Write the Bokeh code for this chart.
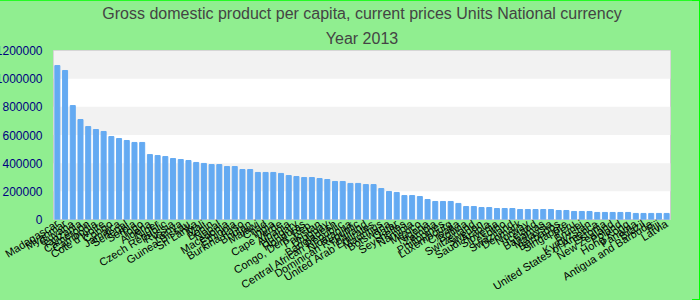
from bokeh.plotting import figure
from bokeh.models import Range1d, FactorRange, Title, SingleIntervalTicker, NumeralTickFormatter
from bokeh.layouts import column
from bokeh.embed import file_html
from bokeh.resources import INLINE

countries = ["Madagascar", "Myanmar", "Guyana", "Tanzania", "Cameroon", "Cambodia", "Cote d'Ivoire",
             "Congo", "Jamaica", "Senegal", "Serbia", "Togo", "Algeria", "Niger", "Czech Republic",
             "Russia", "Kenya", "Guinea-Bissau", "Sri Lanka", "Mali", "Benin", "Nepal", "Macedonia",
             "Ethiopia", "Burkina Faso", "Bhutan", "Malawi", "Chad", "India", "Cape Verde", "Albania",
             "Hungary", "Honduras", "Congo, Dem. Rep.", "Pakistan", "Uruguay", "Bangladesh",
             "Central African Republic", "Nicaragua", "Dominican Republic", "Thailand",
             "United Arab Emirates", "Mauritius", "Botswana", "Qatar", "Seychelles", "Namibia",
             "Mexico", "Nigeria", "Zambia", "Philippines", "Luxembourg", "Croatia", "Bolivia",
             "Switzerland", "Sweden", "Saudi Arabia", "Slovenia", "Lesotho", "Swaziland", "Denmark",
             "Norway", "Iceland", "Bahamas", "Malaysia", "Barbados", "Singapore", "Peru", "Brunei",
             "Kyrgyzstan", "United States of America", "Estonia", "New Zealand", "Poland",
             "Hong Kong", "Panama", "Brazil", "Antigua and Barbuda", "Fiji", "Latvia"]

gdp_2013 = [1093000, 1058000, 809000, 710000, 660000, 639000, 625000, 589000, 575000, 561000,
            547000, 547000, 461000, 454000, 447000, 433000, 426000, 419000, 405000, 398000,
            390000, 390000, 376000, 376000, 355000, 355000, 334000, 334000, 334000, 327000,
            312000, 305000, 298000, 298000, 291000, 284000, 270000, 270000, 256000, 256000,
            248000, 248000, 220000, 199000, 192000, 170000, 170000, 163000, 142000, 128000,
            128000, 128000, 114000, 92000, 92000, 85000, 85000, 78000, 78000, 78000,
            71000, 71000, 71000, 71000, 71000, 64000, 64000, 57000, 57000, 57000,
            50000, 50000, 50000, 50000, 50000, 43000, 43000, 43000, 43000, 43000]

title_text = "Gross domestic product per capita, current prices Units National currency"
subtitle_text = "Year 2013"

p = figure(width=700, height=300, x_range=FactorRange(factors=countries, range_padding=0),
           y_range=Range1d(0, 1200000), output_backend="svg", toolbar_location=None,
           title=title_text)
p.styles = {"margin-left": "-8px"}
p.title.align = "center"
p.title.text_font_size = "16px"
p.title.text_font = "Liberation Sans"
p.title.text_font_style = "normal"
p.title.text_color = "#444444"
p.title.standoff = 4
p.add_layout(Title(text=subtitle_text, align="center", text_font_size="16px",
                   text_font="Liberation Sans", text_font_style="normal",
                   text_color="#444444", standoff=8), "above")

p.vbar(x=countries, top=gdp_2013, width=0.65, color="#64aaf2")

p.background_fill_color = "white"
p.border_fill_color = "#90ee90"
p.outline_line_color = "#cccccc"
p.min_border_left = 0
p.min_border_right = 22
p.min_border_top = 1
p.min_border_bottom = 0

p.xgrid.grid_line_color = None
p.ygrid.grid_line_color = None
p.ygrid.band_fill_color = "#f2f2f2"
p.ygrid.band_fill_alpha = 1

p.yaxis.ticker = SingleIntervalTicker(interval=200000)
p.yaxis.formatter = NumeralTickFormatter(format="0")
p.yaxis.axis_line_color = None
p.yaxis.major_tick_line_color = None
p.yaxis.minor_tick_line_color = None
p.yaxis.major_tick_out = 0
p.yaxis.major_tick_in = 0
p.yaxis.minor_tick_out = 0
p.yaxis.major_label_standoff = 11
p.yaxis.major_label_text_color = "#000080"
p.yaxis.major_label_text_font = "Liberation Sans"
p.yaxis.major_label_text_font_size = "12px"

p.xaxis.axis_line_color = None
p.xaxis.major_tick_line_color = None
p.xaxis.major_tick_out = 0
p.xaxis.major_tick_in = 0
p.xaxis.major_label_standoff = 3
p.xaxis.major_label_orientation = 0.56
p.xaxis.major_label_text_font = "Liberation Sans"
p.xaxis.major_label_text_font_size = "11px"
p.xaxis.major_label_text_color = "black"

layout = column(p, width=700, height=300,
                styles={"overflow": "hidden", "background": "#90ee90",
                        "outline": "1px solid #00ff00", "outline-offset": "-1px"})

open("out.html", "w").write(file_html(layout, INLINE))
